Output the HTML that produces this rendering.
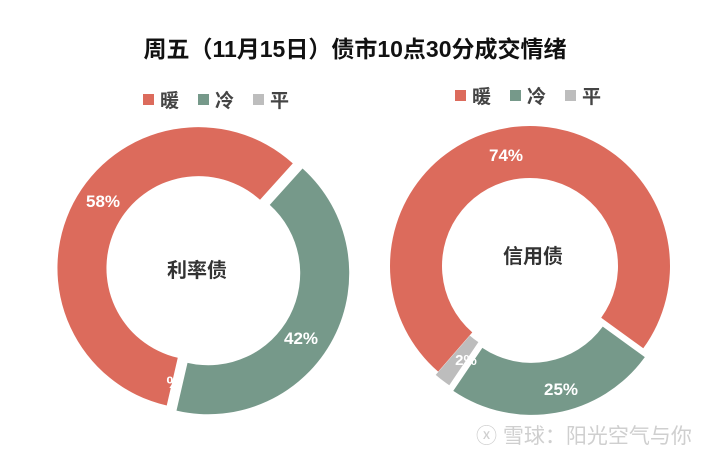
<!DOCTYPE html>
<html><head><meta charset="utf-8"><style>
body{margin:0;width:710px;height:455px;background:#fff;overflow:hidden;font-family:"Liberation Sans","Noto Sans CJK SC",sans-serif}
</style></head><body>
<svg id="s" width="710" height="455" xmlns="http://www.w3.org/2000/svg" font-family="Liberation Sans, Noto Sans CJK SC, sans-serif">
<text x="355" y="57" text-anchor="middle" font-size="23" font-weight="bold" fill="#111">周五（11月15日）债市10点30分成交情绪</text>
<g font-size="19" font-weight="bold" fill="#444">
<rect x="143" y="94" width="11" height="11" fill="#dc6b5c"/><text x="160" y="107">暖</text>
<rect x="198" y="94" width="11" height="11" fill="#76998a"/><text x="215" y="107">冷</text>
<rect x="253" y="94" width="11" height="11" fill="#bdbdbd"/><text x="270" y="107">平</text>
<rect x="455" y="90" width="11" height="11" fill="#dc6b5c"/><text x="472" y="103">暖</text>
<rect x="510" y="90" width="11" height="11" fill="#76998a"/><text x="527" y="103">冷</text>
<rect x="565" y="90" width="11" height="11" fill="#bdbdbd"/><text x="582" y="103">平</text>
</g>
<g id="d"></g>
<g font-size="17" font-weight="bold" fill="#fff">
<text x="103" y="207" text-anchor="middle">58%</text>
<text x="301" y="344" text-anchor="middle">42%</text>
<text x="174" y="388" text-anchor="middle">%</text>
<text x="506" y="161" text-anchor="middle">74%</text>
<text x="561" y="395" text-anchor="middle">25%</text>
<text x="466" y="365" text-anchor="middle" font-size="15">2%</text>
</g>
<g font-size="20" font-weight="bold" fill="#333">
<text x="197" y="277" text-anchor="middle">利率债</text>
<text x="533" y="263" text-anchor="middle">信用债</text>
</g>
<text x="476" y="443" font-size="21" fill="#cfcfcf">ⓧ 雪球：阳光空气与你</text>
</svg>
<script>
function arc(cx,cy,R,r,a0,a1,col,off){
 var m=(a0+a1)/2*Math.PI/180;cx+=off*Math.sin(m);cy-=off*Math.cos(m);
 function p(rad,a){a=a*Math.PI/180;return (cx+rad*Math.sin(a)).toFixed(2)+","+(cy-rad*Math.cos(a)).toFixed(2);}
 var L=(a1-a0)>180?1:0;
 return '<path fill="'+col+'" d="M'+p(R,a0)+' A'+R+','+R+' 0 '+L+' 1 '+p(R,a1)+' L'+p(r,a1)+' A'+r+','+r+' 0 '+L+' 0 '+p(r,a0)+'Z"/>';
}
var h='';
h+=arc(202,270,141,92,42,193,'#76998a',7);
h+=arc(202,270,141,92,193,402,'#dc6b5c',4);
h+=arc(530,266,140,88,126,214,'#76998a',9);
h+=arc(530,266,140,88,214,221,'#bdbdbd',4);
h+=arc(530,266,140,88,221,486,'#dc6b5c',0);
document.getElementById('d').innerHTML=h;
</script>
</body></html>
